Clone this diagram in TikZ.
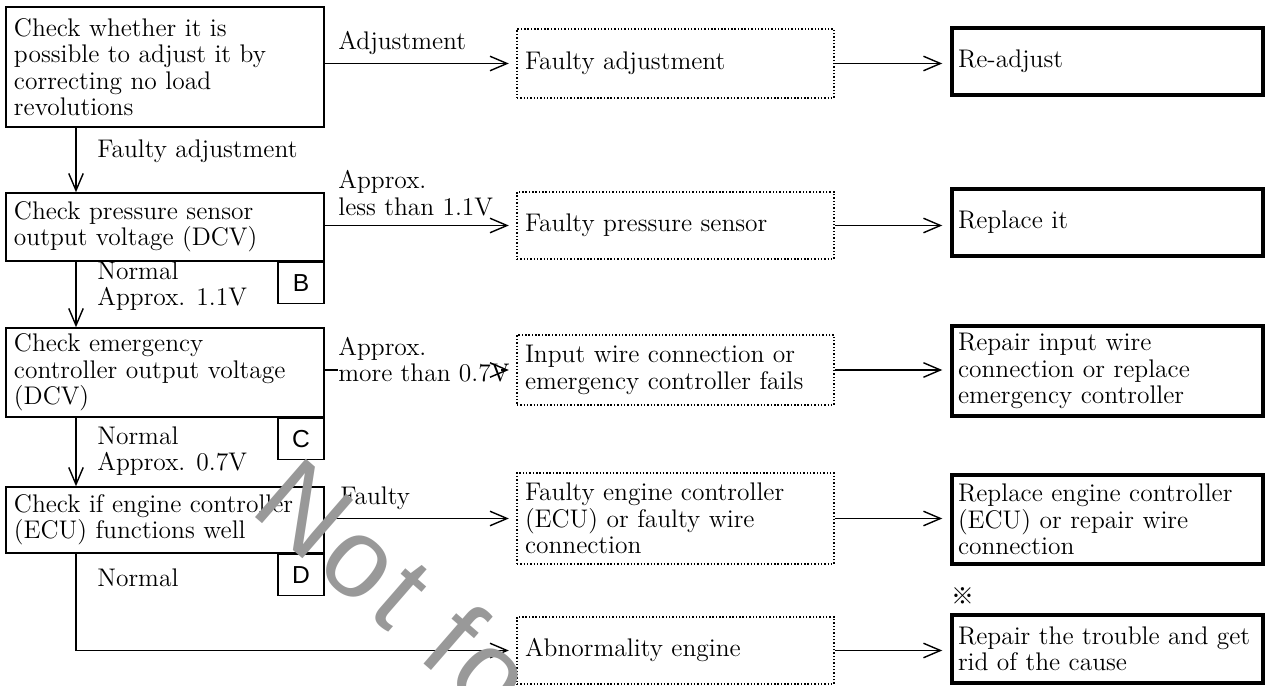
\documentclass[tikz,border=0pt]{standalone}
\usepackage{fontspec}
\usepackage{tikz}
\usetikzlibrary{positioning, arrows.meta}
\newfontfamily\tagfont{Liberation Sans}
\newfontfamily\wmfont{Liberation Sans}[LetterSpace=5]
\newfontfamily\markfont{Noto Sans CJK JP}

\begin{document}
\begin{tikzpicture}[
      font=\fontsize{14.5}{15}\selectfont,
      check/.style={draw, line width=0.9pt, minimum width=6.36cm, text width=6.04cm,
                    align=left, inner xsep=0.16cm, inner ysep=2pt},
      cause/.style={draw, line width=0.8pt, dash pattern=on 0.8pt off 1.1pt,
                    minimum width=6.34cm, text width=6.02cm,
                    align=left, inner xsep=0.16cm, inner ysep=2pt},
      remedy/.style={draw, line width=2.55pt, minimum width=6.22cm, text width=5.98cm,
                     align=left, inner xsep=0.12cm, inner ysep=2pt},
      tagbox/.style={draw, line width=0.9pt, minimum width=0.92cm, minimum height=0.82cm,
                     inner sep=0pt, anchor=north east,
                     font=\tagfont\fontsize{14}{15}\selectfont},
      lbl/.style={anchor=west, align=left, inner sep=0pt},
      lblcover/.style={lbl, fill=white},
      wmark/.style={font=\wmfont\fontsize{64}{64}\selectfont, text=black!40, inner sep=0pt},
      arr/.style={-{Straight Barb[length=3.4mm,width=2.9mm]}, line width=0.8pt},
      harr/.style={arr, shorten >=1.5mm}]
    \useasboundingbox (0,0) rectangle (25.36,-13.72);
    \clip (0,0) rectangle (25.36,-13.72);
    % checks on the left
    \node[check, minimum height=2.4cm] (b1) at (3.30,-1.34)
      {Check whether it is\\possible to adjust it by\\correcting no load\\revolutions};
    \node[check, minimum height=1.36cm] (b2) at (3.30,-4.54)
      {Check pressure sensor\\output voltage (DCV)};
    \node[check, minimum height=1.78cm] (b3) at (3.30,-7.45)
      {Check emergency\\controller output voltage\\(DCV)};
    \node[check, minimum height=1.32cm] (b4) at (3.30,-10.40)
      {Check if engine controller\\(ECU) functions well};
    \node[tagbox] (tb) at (b2.south east) {B};
    \node[tagbox] (tc) at (b3.south east) {C};
    \node[tagbox] (td) at (b4.south east) {D};
    \coordinate (col) at (1.52,0);
    % causes
    \node[cause, minimum height=1.38cm] (d1) at (13.51,-1.27) {Faulty adjustment};
    \node[cause, minimum height=1.34cm] (d2) at (13.51,-4.51) {Faulty pressure sensor};
    \node[cause, minimum height=1.40cm] (d3) at (13.51,-7.40)
      {Input wire connection or\\emergency controller fails};
    \node[cause, minimum height=1.82cm] (d4) at (13.51,-10.37)
      {Faulty engine controller\\(ECU) or faulty wire\\connection};
    \node[cause, minimum height=1.34cm] (d5) at (13.51,-13.01) {Abnormality engine};
    % remedies
    \node[remedy, minimum height=1.33cm] (t1) at (22.15,-1.23) {Re-adjust};
    \node[remedy, minimum height=1.33cm] (t2) at (22.15,-4.45) {Replace it};
    \node[remedy, minimum height=1.79cm] (t3) at (22.15,-7.42)
      {Repair input wire\\connection or replace\\emergency controller};
    \node[remedy, minimum height=1.77cm] (t4) at (22.15,-10.39)
      {Replace engine controller\\(ECU) or repair wire\\connection};
    \node[remedy, minimum height=1.35cm] (t5) at (22.15,-12.98)
      {Repair the trouble and get\\rid of the cause};
    \node[font=\markfont\fontsize{13}{13}\selectfont, inner sep=0pt] (mk) at (19.25,-11.92) {※};
    % connectors
    \draw[arr] (b1.south -| col) -- (b2.north -| col);
    \draw[arr] (b2.south -| col) -- (b3.north -| col);
    \draw[arr] (b3.south -| col) -- (b4.north -| col);
    \draw[harr] (b4.south -| col) |- (d5);
    \foreach \i in {1,2,3,4}{
      \draw[harr] (b\i.east |- d\i) -- (d\i);
    }
    \foreach \i in {1,...,5}{
      \draw[harr] (d\i.east) -- (d\i.east -| t\i.west);
    }
    % labels
    \node[lbl] (l1) at (6.76,-0.86) {Adjustment};
    \node[lbl] (l2) at (1.94,-3.02) {Faulty adjustment};
    \node[lbl] (l3) at (6.76,-3.86) {Approx.\\less than 1.1V};
    \node[lbl] (l4) at (1.94,-5.72) {Normal\\Approx. 1.1V};
    \node[lblcover] (l5) at (6.76,-7.19) {Approx.\\more than 0.7V};
    \node[lbl] (l6) at (1.94,-9.02) {Normal\\Approx. 0.7V};
    \node[lbl] (l7) at (6.80,-9.96) {Faulty};
    \node[lbl] (l8) at (1.94,-11.56) {Normal};
    % tip of the row 3 arrow shows past its label
    \draw[harr] ([xshift=-3mm]d3.west) -- (d3.west);
    % watermark
    \node[wmark, rotate=-41, anchor=base west] (wm) at (4.96,-10.22) {Not fo};
  \end{tikzpicture}
\end{document}
